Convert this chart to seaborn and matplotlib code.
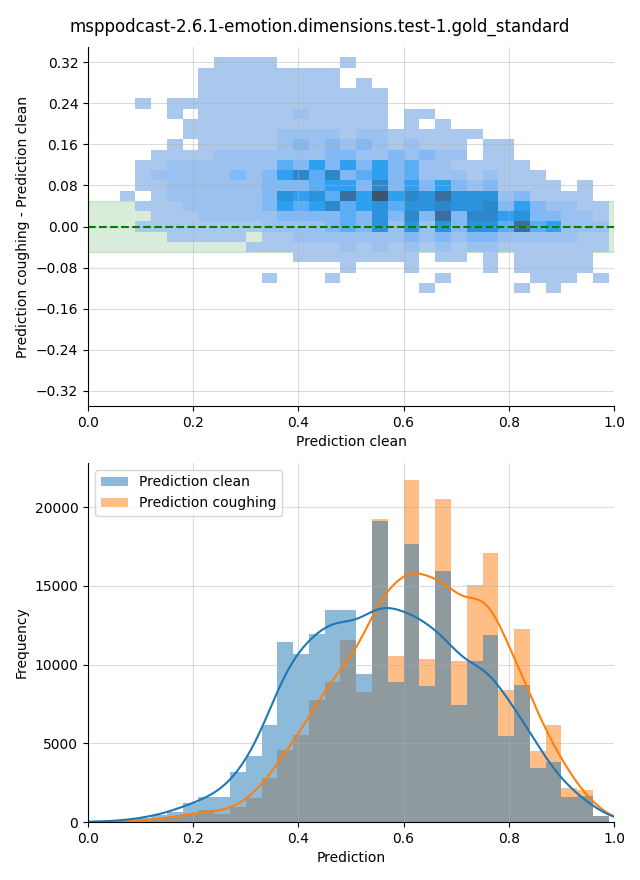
import numpy as np
import pandas as pd
import seaborn as sns
import matplotlib.pyplot as plt

title = "msppodcast-2.6.1-emotion.dimensions.test-1.gold_standard"

# ---------- top panel: 2D histogram (difference vs clean prediction) ----------
x2d_edges = np.round(np.arange(0.06, 0.99 + 1e-9, 0.03), 2)      # 31 columns
y2d_edges = np.round(np.arange(-0.13, 0.33 + 1e-9, 0.02), 2)     # 23 rows
# density level of each cell, top row (0.31..0.33) first, columns 0.06..0.99
cell_levels = [
    "0000001111000010000000000000000",
    "0000011111111100000000000000000",
    "0000011111111101000000000000000",
    "0000011111111111100000000000000",
    "0101111111111111100000000000000",
    "0001011111121111101100000000000",
    "0000111111111111101010000000000",
    "0000111111222212211111100000000",
    "0001011111232323212111011000000",
    "0011112222222332232322011000000",
    "0112222222435353534221111100000",
    "0122222323574734534222121110000",
    "0112222223334553735353231111010",
    "1012222223656485957686662311110",
    "0111222223545745646676673532211",
    "0011122222333343637383775633221",
    "0111111112222343626263664845222",
    "0001111101122222223232332222211",
    "0000000011111121212121221111111",
    "0000000000011111111011010111110",
    "0000000000000010001000010111110",
    "0000000001000100000010000011101",
    "0000000000000000000100000101000",
]
# estimated cell count for each level
level_counts = [0, 1, 7, 15, 25, 37, 48, 57, 78, 100]

# ---------- bottom panel: histograms of predictions ----------
bin_edges = [round(v, 2) for v in np.arange(0.0, 1.0, 0.03)]   # 0.00 .. 0.99
clean_counts = [20, 40, 100, 250, 450, 650, 1230, 1570, 1570, 3185, 4200,
                6180, 11450, 10700, 11970, 13480, 13440, 9430, 19110, 8870,
                17640, 8660, 15920, 7450, 10250, 11850, 5480, 8730, 3460,
                3780, 1600, 1660, 380]
cough_counts = [5, 10, 30, 80, 180, 330, 490, 760, 490, 980, 1550,
                2780, 4590, 5540, 7730, 8870, 11530, 8280, 19230, 10570,
                21720, 10380, 20510, 10250, 15030, 17070, 8370, 12290, 4520,
                6180, 2150, 2040, 400]
series_names = ["Prediction clean", "Prediction coughing"]

# ---------- build data frames ----------
x_centers = (x2d_edges[:-1] + x2d_edges[1:]) / 2
y_centers = (y2d_edges[:-1] + y2d_edges[1:]) / 2
rows = []
n_rows = len(cell_levels)
for r, line in enumerate(cell_levels):
    yc = y_centers[n_rows - 1 - r]
    for i, ch in enumerate(line):
        w = level_counts[int(ch)]
        if w > 0:
            rows.append((x_centers[i], yc, w))
df2d = pd.DataFrame(rows, columns=["clean", "diff", "count"])

be = np.array(bin_edges)
centers = (be[:-1] + be[1:]) / 2
df1d = pd.DataFrame({
    "value": np.concatenate([centers, centers]),
    "count": np.concatenate([clean_counts, cough_counts]),
    "series": [series_names[0]] * len(centers) + [series_names[1]] * len(centers),
})

# ---------- figure ----------
fig = plt.figure(figsize=(6.4, 8.8), dpi=100)
ax1 = fig.add_axes([0.1375, 0.5386, 0.8219, 0.408])
ax2 = fig.add_axes([0.1375, 0.0659, 0.8219, 0.408])

ax1.axhspan(-0.05, 0.05, color="green", alpha=0.15)
sns.histplot(data=df2d, x="clean", y="diff", weights="count",
             bins=[list(x2d_edges), list(y2d_edges)], ax=ax1)
ax1.axhline(0, color="green", linestyle="--")
ax1.set_xlim(0, 1)
ax1.set_ylim(-0.35, 0.35)
ax1.set_yticks(np.round(np.arange(-0.32, 0.33, 0.08), 2))
ax1.set_xlabel("Prediction clean")
ax1.set_ylabel("Prediction coughing - Prediction clean")
ax1.grid(True, alpha=0.45)
sns.despine(ax=ax1)

sns.histplot(data=df1d, x="value", weights="count", hue="series",
             hue_order=series_names, bins=bin_edges, kde=True, linewidth=0,
             kde_kws={"bw_adjust": 0.4, "cut": 3, "clip": (0, 1)},
             line_kws={"linewidth": 1.5}, ax=ax2)
ax2.set_xlim(0, 1)
ax2.set_xlabel("Prediction")
ax2.set_ylabel("Frequency")
ax2.grid(True, alpha=0.45)
sns.move_legend(ax2, "upper left", title=None)
sns.despine(ax=ax2)

fig.suptitle(title, fontsize=12, y=0.98)
fig.savefig("out.png", dpi=100)
